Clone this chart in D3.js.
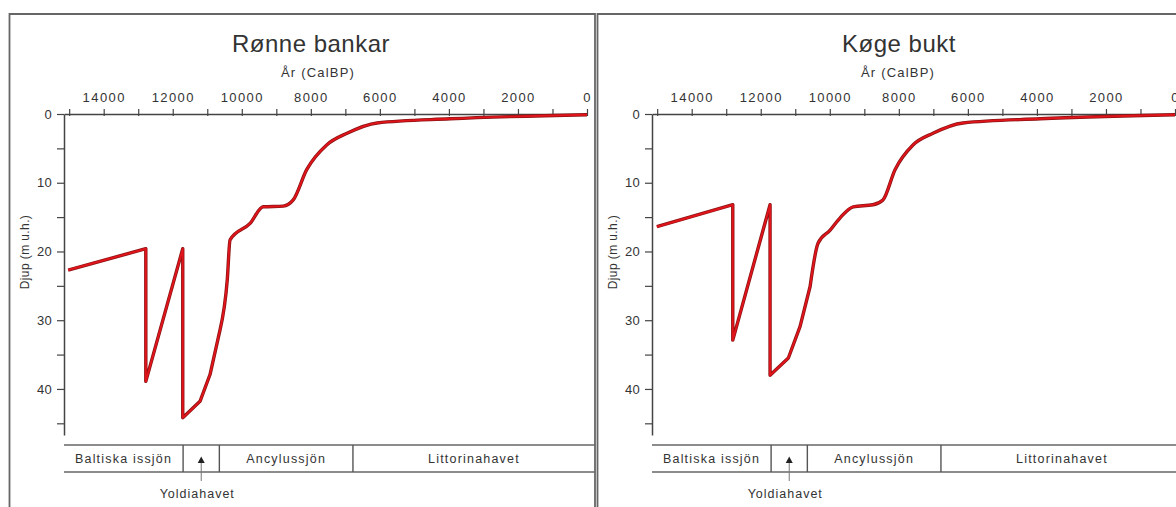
<!DOCTYPE html>
<html>
<head>
<meta charset="utf-8">
<script src="https://cdn.jsdelivr.net/npm/d3@7"></script>
<style>
  body { margin: 0; background: #fff; }
  svg { display: block; font-family: "Liberation Sans", Arial, sans-serif; }
</style>
</head>
<body>
<div id="chart"></div>
<script>
// ============================================
// DATA
// ============================================

const panelTitles = ["Rønne bankar", "Køge bukt"];

// År (CalBP) and Djup (m u.h.)
const ronneYears = [15030, 12780, 12780, 11710, 11710, 11210, 10920, 10630, 10420, 10340, 9760, 9380, 8800, 8510, 8120, 7540, 6950, 6080, 3970, 0];
const ronneDepth = [22.7, 19.6, 38.9, 19.6, 44.2, 41.8, 37.9, 31.4, 24.1, 18.3, 15.9, 13.5, 13.4, 12.5, 8.1, 4.5, 2.8, 1.3, 0.7, 0.1];

const kogeYears = [15010, 12810, 12810, 11730, 11730, 11200, 10860, 10570, 10340, 9990, 9700, 9320, 8750, 8460, 8110, 7590, 7010, 6140, 3910, 0];
const kogeDepth = [16.4, 13.2, 32.9, 13.2, 38.0, 35.5, 30.9, 25.1, 18.8, 16.9, 15.1, 13.5, 13.2, 12.5, 8.1, 4.5, 2.8, 1.3, 0.7, 0.1];

// axis ticks
const yearLabels = [14000, 12000, 10000, 8000, 6000, 4000, 2000, 0];
const yearMinor = [15000, 13000, 11000, 9000, 7000, 5000, 3000, 1000];
const depthLabels = [0, 10, 20, 30, 40];
const depthMinor = [5, 15, 25, 35, 45];

// Baltic stages below the plot
const stageNames = ["Baltiska issjön", "Ancylussjön", "Littorinahavet"];
const stageEdges = [11700, 10650, 6780];
const yoldiaName = "Yoldiahavet";

// ============================================
// SETUP
// ============================================

const W = 1176, H = 507;
const textColor = "#333";

const svg = d3.select("#chart")
  .append("svg")
  .attr("width", W)
  .attr("height", H);

const x = d3.scaleLinear().domain([15150, 0]).range([64, 587]);
const y = d3.scaleLinear().domain([0, 46.7]).range([114, 435]);

const panels = [
  { title: panelTitles[0], years: ronneYears, depth: ronneDepth, dx: 0, labelX: 318 },
  { title: panelTitles[1], years: kogeYears, depth: kogeDepth, dx: 588, labelX: 310 }
];

panels.forEach(drawPanel);

// ============================================
// PANEL
// ============================================

function drawPanel(p) {
  const g = svg.append("g").attr("transform", `translate(${p.dx},0)`);
  const right = 595;

  // frame
  g.append("path")
    .attr("d", `M9.5,${H + 5}V14H${right}V${H + 5}`)
    .attr("fill", "none")
    .attr("stroke", "#666")
    .attr("stroke-width", 1.8);

  // title and axis title
  g.append("text")
    .attr("x", 311).attr("y", 52)
    .attr("text-anchor", "middle")
    .style("font-size", "24px")
    .style("letter-spacing", "0.5px")
    .attr("fill", textColor)
    .text(p.title);

  g.append("text")
    .attr("x", p.labelX).attr("y", 77)
    .attr("text-anchor", "middle")
    .style("font-size", "13px")
    .style("letter-spacing", "1.2px")
    .attr("fill", textColor)
    .text("År (CalBP)");

  // x axis on top
  const xAxis = g.append("g")
    .attr("transform", `translate(0,${y(0)})`)
    .call(d3.axisTop(x)
      .tickValues(yearLabels.concat(yearMinor))
      .tickSizeInner(5)
      .tickSizeOuter(0)
      .tickPadding(7)
      .tickFormat(d => yearLabels.includes(d) ? d : ""));
  xAxis.select(".domain").attr("stroke", "#444").attr("stroke-width", 1.5);
  xAxis.selectAll(".tick line").attr("y1", 2).attr("stroke", "#444").attr("stroke-width", 1.2);
  xAxis.selectAll(".tick text")
    .attr("fill", textColor)
    .style("font-size", "13px")
    .style("letter-spacing", "1.4px");

  // y axis
  const yAxis = g.append("g")
    .attr("transform", `translate(${x.range()[0]},0)`)
    .call(d3.axisLeft(y)
      .tickValues(depthLabels.concat(depthMinor))
      .tickSizeInner(7)
      .tickSizeOuter(0)
      .tickPadding(5)
      .tickFormat(d => depthLabels.includes(d) ? d : ""));
  yAxis.select(".domain").attr("stroke", "#444").attr("stroke-width", 1.5);
  yAxis.selectAll(".tick line").attr("stroke", "#444").attr("stroke-width", 1.2);
  yAxis.selectAll(".tick text")
    .attr("fill", textColor)
    .style("font-size", "13px")
    .style("letter-spacing", "0.3px");

  g.append("text")
    .attr("transform", "translate(29,252) rotate(-90)")
    .attr("text-anchor", "middle")
    .style("font-size", "12px")
    .style("letter-spacing", "0.4px")
    .attr("fill", textColor)
    .text("Djup (m u.h.)");

  // depth curve: straight jumps and descent, smooth once the level rises
  const pts = p.years.map((yr, i) => [yr, p.depth[i]]);
  const straight = d3.line()
    .x(d => x(d[0]))
    .y(d => y(d[1]));
  const smooth = d3.line()
    .x(d => x(d[0]))
    .y(d => y(d[1]))
    .curve(d3.curveMonotoneX);
  const d = straight(pts.slice(0, 8)) + "L" + smooth(pts.slice(7)).slice(1);

  g.append("path")
    .attr("d", d)
    .attr("fill", "none")
    .attr("stroke", "#8a1414")
    .attr("stroke-width", 3.4)
    .attr("stroke-linejoin", "round");
  g.append("path")
    .attr("d", d)
    .attr("fill", "none")
    .attr("stroke", "#e2141b")
    .attr("stroke-width", 1.9)
    .attr("stroke-linejoin", "round");

  // stage band
  const bandTop = 445, bandBot = 472;
  const x0 = x.range()[0];
  [bandTop, bandBot].forEach(yy => {
    g.append("line")
      .attr("x1", x0).attr("x2", right)
      .attr("y1", yy).attr("y2", yy)
      .attr("stroke", "#666").attr("stroke-width", 1.6);
  });
  stageEdges.forEach(e => {
    g.append("line")
      .attr("x1", x(e)).attr("x2", x(e))
      .attr("y1", bandTop).attr("y2", bandBot)
      .attr("stroke", "#555").attr("stroke-width", 1.4);
  });

  const segs = [
    [x0, x(stageEdges[0])],
    [x(stageEdges[1]), x(stageEdges[2])],
    [x(stageEdges[2]), right]
  ];
  stageNames.forEach((name, i) => {
    g.append("text")
      .attr("x", (segs[i][0] + segs[i][1]) / 2)
      .attr("y", 463)
      .attr("text-anchor", "middle")
      .style("font-size", "12.5px")
      .style("letter-spacing", "1.2px")
      .attr("fill", textColor)
      .text(name);
  });

  // Yoldia marker with arrow
  const yx = (x(stageEdges[0]) + x(stageEdges[1])) / 2;
  g.append("path")
    .attr("d", `M${yx - 3.5},${463}L${yx + 3.5},${463}L${yx},${456.5}Z`)
    .attr("fill", "#222");
  g.append("line")
    .attr("x1", yx).attr("x2", yx)
    .attr("y1", 463).attr("y2", 481)
    .attr("stroke", "#777").attr("stroke-width", 1);
  g.append("text")
    .attr("x", yx - 4).attr("y", 498)
    .attr("text-anchor", "middle")
    .style("font-size", "12.5px")
    .style("letter-spacing", "1px")
    .attr("fill", textColor)
    .text(yoldiaName);
}
</script>
</body>
</html>
